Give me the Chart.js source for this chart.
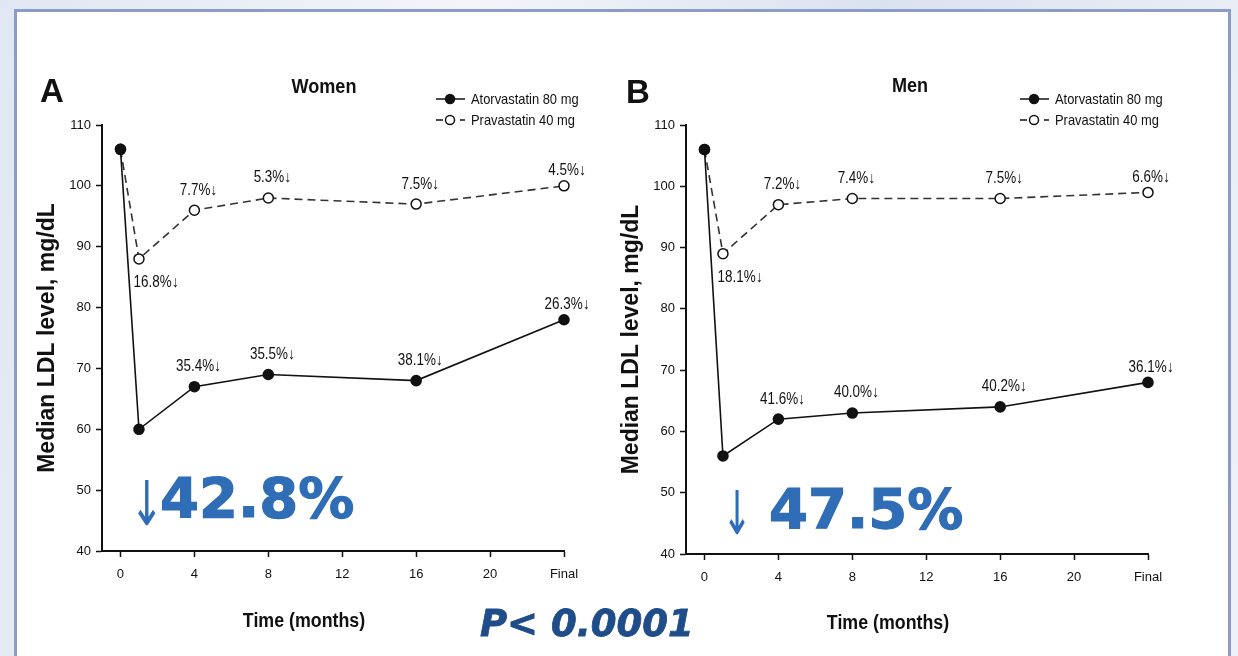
<!DOCTYPE html>
<html lang="en">
<head>
<meta charset="UTF-8">
<title>Median LDL – Women / Men</title>
<script src="https://cdn.jsdelivr.net/npm/chart.js"></script>
<style>
  body {
    margin: 0; width: 1238px; height: 656px; overflow: hidden; position: relative;
    background: linear-gradient(100deg, #e1e7f2 0%, #f3f5f9 35%, #dbe2ef 65%, #eef1f7 100%);
    font-family: "Liberation Sans", Arial, sans-serif;
  }
  .panel {
    position: absolute; left: 14px; top: 9px; width: 1217px; height: 670px;
    background: #fff; border: 3px solid #8c9cc8; box-sizing: border-box;
  }
  .box { position: absolute; width: 590px; height: 596px; }
  #boxA { left: 20px; top: 60px; }
  #boxB { left: 604px; top: 63px; }
  .letter { position: absolute; font: bold 33px/1 "Liberation Sans", Arial, sans-serif; color: #111; }
  .ttl, .xttl {
    position: absolute; white-space: nowrap; color: #111;
    font: bold 21px/1 "Liberation Sans", Arial, sans-serif;
  }
  .ttl { transform: translateX(-50%) scaleX(0.86); }
  .xttl { font-size: 20px; transform: translateX(-50%) scaleX(0.89); }
  .big { position: absolute; font: bold 56px/1 "DejaVu Sans", sans-serif; color: #2f6db6; white-space: nowrap; -webkit-text-stroke: 1.2px #2f6db6; }
  .arr { position: absolute; font: 56px/1 "DejaVu Sans", sans-serif; color: #2f6db6; transform-origin: 0 0; }
  .pval { position: absolute; left: 480px; top: 605px; font: italic bold 37px/1 "DejaVu Sans", sans-serif; color: #1f4d8a; -webkit-text-stroke: 0.8px #1f4d8a; }
</style>
</head>
<body>
<div class="panel"></div>
<div class="box" id="boxA"><canvas id="chartA"></canvas></div>
<div class="box" id="boxB"><canvas id="chartB"></canvas></div>

<div class="letter" style="left:40px; top:74px;">A</div>
<div class="letter" style="left:626px; top:75px;">B</div>
<div class="ttl" style="left:324px; top:75px;">Women</div>
<div class="ttl" style="left:910px; top:74px;">Men</div>
<div class="xttl" style="left:304px; top:610px;">Time (months)</div>
<div class="xttl" style="left:888px; top:612px;">Time (months)</div>

<div class="arr" style="left:130px; top:473px; transform: scale(0.72, 1.1);">↓</div>
<div class="big" style="left:160px; top:470px;">42.8%</div>
<div class="arr" style="left:722px; top:483px; transform: scale(0.64, 1.08);">↓</div>
<div class="big" style="left:769px; top:481px;">47.5%</div>
<div class="pval">P&lt; 0.0001</div>

<script>
// months of follow-up ("Final" is placed at 24)
const months = [0, 1, 4, 8, 16, 24];
const xTicks = [0, 4, 8, 12, 16, 20, 24];
const seriesNames = ['Atorvastatin 80 mg', 'Pravastatin 40 mg'];

const womenAtorva = [106, 60, 67, 69, 68, 78];
const womenPrava = [106, 88, 96, 98, 97, 100];
const menAtorva = [106, 56, 62, 63, 64, 68];
const menPrava = [106, 89, 97, 98, 98, 99];

// % reduction labels, one per point (null = no label)
const womenAtorvaPct = [null, null, '35.4%↓', '35.5%↓', '38.1%↓', '26.3%↓'];
const womenPravaPct = [null, '16.8%↓', '7.7%↓', '5.3%↓', '7.5%↓', '4.5%↓'];
const menAtorvaPct = [null, null, '41.6%↓', '40.0%↓', '40.2%↓', '36.1%↓'];
const menPravaPct = [null, '18.1%↓', '7.2%↓', '7.4%↓', '7.5%↓', '6.6%↓'];

const sans = '"Liberation Sans", Arial, sans-serif';

// narrow-looking text: squeeze horizontally
function narrowText(ctx, txt, x, y, sx) {
  ctx.save();
  ctx.translate(x, y);
  ctx.scale(sx, 1);
  ctx.fillText(txt, 0, 0);
  ctx.restore();
}

// draws the small % labels next to each point + the legend at top right
const extrasPlugin = {
  id: 'extras',
  afterDatasetsDraw(chart, args, opts) {
    const { ctx, chartArea } = chart;
    ctx.save();
    ctx.fillStyle = '#111';
    ctx.font = '16px ' + sans;
    ctx.textAlign = 'center';
    ctx.textBaseline = 'middle';
    chart.data.datasets.forEach((ds, di) => {
      const meta = chart.getDatasetMeta(di);
      const labels = opts.pct[di];
      meta.data.forEach((pt, i) => {
        if (!labels[i]) return;
        let dx = 4, dy = -20;
        if (i == 1) { dx = 17; dy = 24; }
        if (i == labels.length - 1) { dx = 3, dy = -15; }
        narrowText(ctx, labels[i], pt.x + dx, pt.y + dy, 0.84);
      });
    });

    // legend
    const lx = chartArea.right - 128;
    const rows = [chartArea.top - 26, chartArea.top - 5];
    ctx.textAlign = 'left';
    ctx.font = '15px ' + sans;
    chart.data.datasets.forEach((ds, di) => {
      const y = rows[di];
      ctx.strokeStyle = '#111';
      ctx.lineWidth = 1.5;
      ctx.setLineDash(di == 0 ? [] : [7, 5]);
      ctx.beginPath();
      ctx.moveTo(lx, y); ctx.lineTo(lx + 29, y);
      ctx.stroke();
      ctx.setLineDash([]);
      ctx.beginPath();
      ctx.arc(lx + 14, y, 4.5, 0, Math.PI * 2);
      ctx.fillStyle = di == 0 ? '#111' : '#fff';
      ctx.fill(); ctx.stroke();
      ctx.fillStyle = '#111';
      narrowText(ctx, ds.label, lx + 35, y + 1, 0.86);
    });
    ctx.restore();
  }
};

function makeChart(id, atorva, prava, atorvaPct, pravaPct, padTop) {
  return new Chart(document.getElementById(id), {
    type: 'line',
    data: {
      datasets: [
        {
          label: seriesNames[0],
          data: months.map((m, i) => ({ x: m, y: atorva[i] })),
          borderColor: '#111',
          borderWidth: 1.6,
          pointRadius: 5,
          pointBackgroundColor: '#111',
          pointBorderColor: '#111',
          tension: 0
        },
        {
          label: seriesNames[1],
          data: months.map((m, i) => ({ x: m, y: prava[i] })),
          borderColor: '#333',
          borderWidth: 1.6,
          borderDash: [8, 5],
          pointRadius: 5,
          pointBorderWidth: 1.5,
          pointBackgroundColor: '#fff',
          pointBorderColor: '#111',
          tension: 0
        }
      ]
    },
    options: {
      responsive: true,
      maintainAspectRatio: false,
      animation: false,
      clip: false,
      layout: { padding: { top: padTop, right: 46, left: 0, bottom: 0 } },
      plugins: {
        legend: { display: false },
        tooltip: { enabled: false },
        extras: { pct: [atorvaPct, pravaPct] }
      },
      scales: {
        x: {
          type: 'linear',
          min: -1,
          max: 24,
          afterBuildTicks: s => { s.ticks = xTicks.map(v => ({ value: v })); },
          afterFit: s => { s.height = 105; },
          ticks: {
            autoSkip: false, maxRotation: 0, padding: 10, color: '#111',
            font: { family: sans, size: 13 },
            callback: v => v === 24 ? 'Final' : v
          },
          grid: { drawOnChartArea: false, tickLength: 6, tickColor: '#111', tickWidth: 1.5 },
          border: { color: '#111', width: 2 }
        },
        y: {
          min: 40,
          max: 110,
          afterFit: s => { s.width = 82; },
          ticks: {
            stepSize: 10, padding: 5, color: '#111',
            font: { family: sans, size: 13 }
          },
          grid: { drawOnChartArea: false, tickLength: 6, tickColor: '#111', tickWidth: 1.5 },
          border: { color: '#111', width: 2 },
          title: {
            display: true, text: 'Median LDL level, mg/dL', color: '#111',
            font: { family: sans, size: 23, weight: 'bold' },
            padding: { top: 14, bottom: 0 }
          }
        }
      }
    },
    plugins: [extrasPlugin]
  });
}

makeChart('chartA', womenAtorva, womenPrava, womenAtorvaPct, womenPravaPct, 65);
makeChart('chartB', menAtorva, menPrava, menAtorvaPct, menPravaPct, 62);
</script>
</body>
</html>
